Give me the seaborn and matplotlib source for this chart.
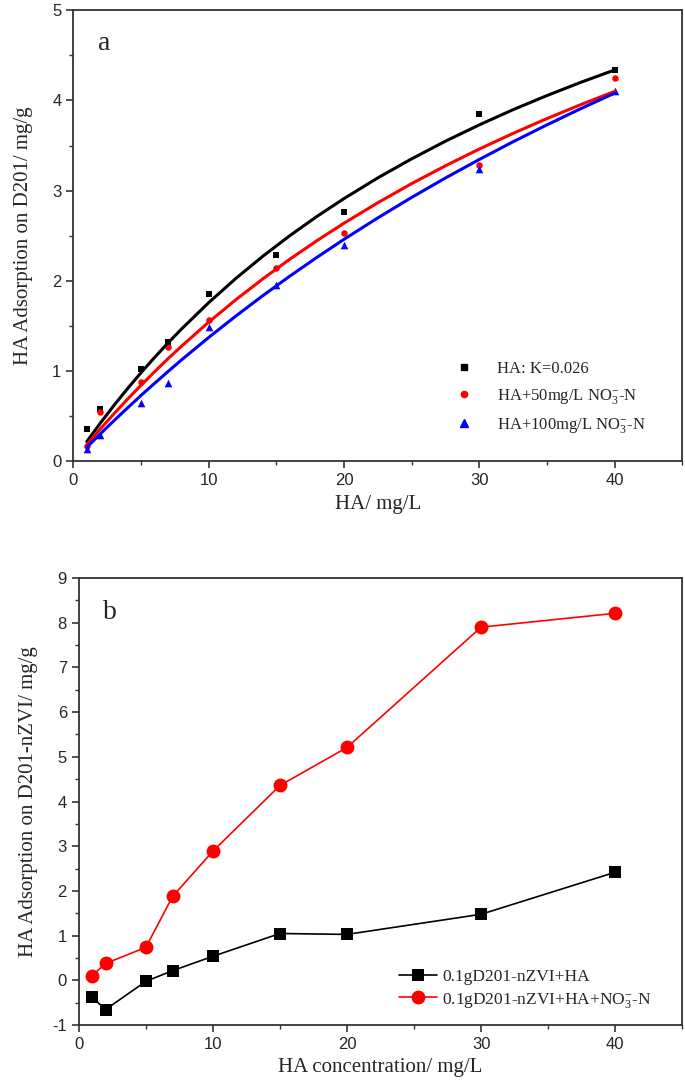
import pandas as pd
import matplotlib.pyplot as plt
import seaborn as sns
from matplotlib.ticker import MultipleLocator

# HA concentration (mg/L)
conc = [1, 2, 5, 7, 10, 15, 20, 30, 40]

# panel a: measured adsorption on D201 (mg/g)
ha_only = [0.35, 0.58, 1.02, 1.32, 1.85, 2.28, 2.76, 3.85, 4.34]
ha_50 = [0.17, 0.54, 0.88, 1.26, 1.56, 2.14, 2.53, 3.28, 4.25]
ha_100 = [0.13, 0.29, 0.64, 0.87, 1.49, 1.95, 2.40, 3.24, 4.10]

# panel a: fitted curves
fit_x = [1, 2, 3, 4, 5, 6, 7, 8, 10, 12, 14, 16, 18, 20, 22.5, 25, 27.5, 30, 32.5, 35, 37.5, 40]
fit_ha = [0.216, 0.421, 0.616, 0.802, 0.979, 1.148, 1.310, 1.465, 1.756, 2.024, 2.271,
          2.500, 2.713, 2.911, 3.141, 3.352, 3.548, 3.729, 3.898, 4.054, 4.201, 4.338]
fit_50 = [0.181, 0.356, 0.523, 0.685, 0.840, 0.990, 1.135, 1.274, 1.540, 1.788, 2.020,
          2.239, 2.444, 2.638, 2.865, 3.077, 3.275, 3.461, 3.635, 3.799, 3.954, 4.100]
fit_100 = [0.153, 0.302, 0.447, 0.588, 0.727, 0.861, 0.993, 1.122, 1.370, 1.607, 1.834,
           2.051, 2.259, 2.459, 2.697, 2.924, 3.140, 3.345, 3.542, 3.729, 3.909, 4.081]

# panel b: adsorption on D201-nZVI (mg/g)
nzvi_ha = [-0.38, -0.65, -0.02, 0.22, 0.54, 1.05, 1.03, 1.48, 2.42]
nzvi_ha_no3 = [0.11, 0.38, 0.74, 1.88, 2.89, 4.36, 5.21, 7.90, 8.21]

no3 = r"$\mathregular{NO_3^{-}}$"
labels_a = ["HA: K=0.026", "HA+50mg/L " + no3 + "-N", "HA+100mg/L " + no3 + "-N"]
labels_b = ["0.1gD201-nZVI+HA", "0.1gD201-nZVI+HA+" + no3 + "-N"]

sns.set_style("ticks")
plt.rcParams["font.family"] = ["Liberation Sans", "DejaVu Sans"]
plt.rcParams["axes.unicode_minus"] = False
serif = "Liberation Serif"

fig = plt.figure(figsize=(6.85, 10.86), dpi=100)
ax1 = fig.add_axes([0.107, 0.5755, 0.889, 0.415])
ax2 = fig.add_axes([0.115, 0.056, 0.881, 0.4118])

# ---- panel a
for y, c, m, s in [(ha_only, "black", "s", 22), (ha_50, "red", "o", 22), (ha_100, "blue", "^", 30)]:
    sns.scatterplot(x=conc, y=y, ax=ax1, color=c, marker=m, s=s, linewidth=0)
for y, c in [(fit_ha, "black"), (fit_50, "red"), (fit_100, "blue")]:
    sns.lineplot(x=fit_x, y=y, ax=ax1, color=c, linewidth=2.2)

h = [plt.Line2D([], [], ls="none", marker=m, color=c, markersize=ms)
     for m, c, ms in [("s", "black", 4.5), ("o", "red", 4.5), ("^", "blue", 5.5)]]
ax1.legend(h, labels_a, loc="lower right", bbox_to_anchor=(0.965, 0.025), frameon=False,
           prop={"family": serif, "size": 12}, handletextpad=1.0, labelspacing=0.6)

ax1.set_xlim(0, 45)
ax1.set_ylim(0, 5)
ax1.xaxis.set_major_locator(MultipleLocator(10))
ax1.xaxis.set_minor_locator(MultipleLocator(5))
ax1.yaxis.set_major_locator(MultipleLocator(1))
ax1.yaxis.set_minor_locator(MultipleLocator(0.5))
ax1.set_xlabel("HA/ mg/L", family=serif, fontsize=15, labelpad=5)
ax1.set_ylabel("HA Adsorption on D201/ mg/g", family=serif, fontsize=15, labelpad=14)
ax1.text(0.04, 0.955, "a", transform=ax1.transAxes, family=serif, fontsize=20, va="top")

# ---- panel b
sns.lineplot(x=conc, y=nzvi_ha, ax=ax2, color="black", marker="s", markersize=9,
             markeredgewidth=0, linewidth=1.2, label=labels_b[0])
sns.lineplot(x=conc, y=nzvi_ha_no3, ax=ax2, color="red", marker="o", markersize=10,
             markeredgewidth=0, linewidth=1.2, label=labels_b[1])
ax2.legend(loc="lower right", bbox_to_anchor=(0.975, 0.0), frameon=False,
           prop={"family": serif, "size": 12.5}, handlelength=2.2, handletextpad=0.3,
           labelspacing=0.3)

ax2.set_xlim(0, 45)
ax2.set_ylim(-1, 9)
ax2.xaxis.set_major_locator(MultipleLocator(10))
ax2.xaxis.set_minor_locator(MultipleLocator(5))
ax2.yaxis.set_major_locator(MultipleLocator(1))
ax2.yaxis.set_minor_locator(MultipleLocator(0.5))
ax2.set_xlabel("HA concentration/ mg/L", family=serif, fontsize=15, labelpad=4)
ax2.set_ylabel("HA Adsorption on D201-nZVI/ mg/g", family=serif, fontsize=15, labelpad=10)
ax2.text(0.04, 0.95, "b", transform=ax2.transAxes, family=serif, fontsize=20, va="top")

for ax in (ax1, ax2):
    for sp in ax.spines.values():
        sp.set_color("#333333")
        sp.set_linewidth(1.3)
    ax.tick_params(which="major", length=5, width=1.2, color="#333333", labelsize=12)
    ax.tick_params(which="minor", length=3, width=1.0, color="#333333")

fig.savefig("out.png", dpi=100)
